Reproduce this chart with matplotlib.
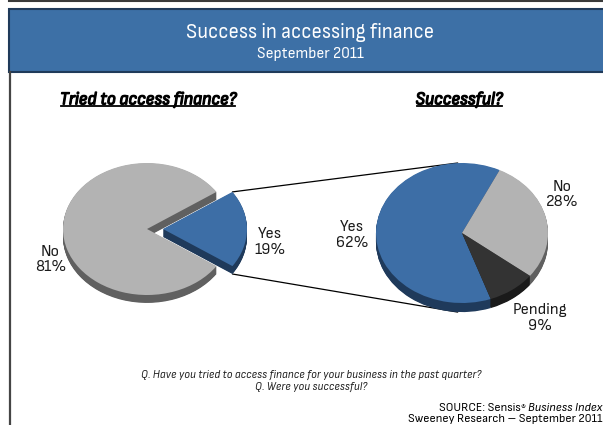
import matplotlib
matplotlib.use('Agg')
import matplotlib.pyplot as plt
import matplotlib.patheffects as pe
from matplotlib.patches import Rectangle, ConnectionPatch
from matplotlib.lines import Line2D
from matplotlib.transforms import IdentityTransform
import numpy as np

plt.rcParams['font.family'] = ['Sofia Sans Semi Condensed', 'Archivo Narrow', 'DejaVu Sans']

# Tried to access finance?
tried_labels = ['Yes', 'No']
tried_values = [19, 81]

# Successful?
success_labels = ['Yes', 'No', 'Pending']
success_values = [62, 28, 9]

W, H = 603, 425
BLUE, BLUE_SIDE = '#3d6ea6', '#1f3a5b'
GREY, GREY_SIDE = '#b3b3b3', '#606060'
DARK, DARK_SIDE = '#333333', '#1a1a1a'


def fx(x):
    return x / W


def fy(y):
    return 1 - y / H


def pie_axes(cx, cy, a, b, lim=1.4):
    # axes sized so that one data unit is a px across and b px high
    w, h = 2 * lim * a, 2 * lim * b
    ax = fig.add_axes([fx(cx - w / 2), fy(cy + h / 2), w / W, h / H])
    return ax


def pie3d(ax, values, faces, sides, depth, lim=1.4, **kw):
    steps = 14
    for k in range(steps, 0, -1):
        ax.pie(values, colors=sides, center=(0, -depth * k / steps),
               wedgeprops=dict(linewidth=0), **kw)
    wedges, _ = ax.pie(values, colors=faces, wedgeprops=dict(linewidth=0), **kw)
    ax.set_aspect('auto')
    ax.set_xlim(-lim, lim)
    ax.set_ylim(-lim, lim)
    return wedges


fig = plt.figure(figsize=(W / 100, H / 100), dpi=100)

# header band and frame
fig.add_artist(Rectangle((fx(9), fy(72)), fx(W - 9) + 0.01, 63 / H,
                         transform=fig.transFigure, facecolor='#3d70a6',
                         edgecolor='#1f3a5a', linewidth=1.5, zorder=-2))
fig.add_artist(Line2D([fx(9), 1], [fy(0.8), fy(0.8)], color='#3a3a3a', lw=1.5))
fig.add_artist(Line2D([fx(9.8), fx(9.8)], [0, fy(72)], color='#454545', lw=1.6))

fig.text(0.514, fy(32), 'Success in accessing finance', color='white',
         fontsize=15, ha='center', va='center')
fig.text(0.514, fy(54), 'September 2011', color='white',
         fontsize=11.5, ha='center', va='center')

# left pie
ax1 = pie_axes(147, 229, 84, 66)
w1 = pie3d(ax1, tried_values, [BLUE, GREY], [BLUE_SIDE, GREY_SIDE], 0.12,
           startangle=34.2, counterclock=False, explode=[0.19, 0])

# right pie
ax2 = pie_axes(462, 233, 86, 70)
w2 = pie3d(ax2, success_values, [BLUE, GREY, DARK],
           [BLUE_SIDE, GREY_SIDE, DARK_SIDE], 0.13,
           startangle=-70.5, counterclock=False)

lab = dict(fontsize=12, ha='center', va='center', color='#1a1a1a', linespacing=1.15)
ax1.text(-1.15, -0.46, f'{tried_labels[1]}\n{tried_values[1]}%', **lab)
ax1.text(1.46, -0.20, f'{tried_labels[0]}\n{tried_values[0]}%', **lab)
ax2.text(-1.28, -0.03, f'{success_labels[0]}\n{success_values[0]}%', **lab)
ax2.text(1.17, 0.55, f'{success_labels[1]}\n{success_values[1]}%', **lab)
ax2.text(0.91, -1.21, f'{success_labels[2]}\n{success_values[2]}%', **lab)

# lines linking the Yes slice to the breakdown pie
yes = w1[0]
cx, cy = yes.center
t_hi, t_lo = np.radians(yes.theta2), np.radians(yes.theta1)
p_hi = (cx + yes.r * np.cos(t_hi), cy + yes.r * np.sin(t_hi))
p_lo = (cx + yes.r * np.cos(t_lo), cy + yes.r * np.sin(t_lo) - 0.12)
for pa, pb in [(p_hi, (-0.05, 1.0)), (p_lo, (-0.05, -1.13))]:
    con = ConnectionPatch(pa, pb, coordsA=ax1.transData, coordsB=ax2.transData,
                          color='black', lw=0.9, zorder=-1)
    fig.add_artist(con)

# headings: heavier stroke stands in for the bold face
bold = [pe.withStroke(linewidth=0.9, foreground='black')]
h1 = fig.text(fx(148), fy(100), 'Tried to access finance?', fontsize=13,
              fontweight='bold', style='italic', ha='center', va='center',
              path_effects=bold)
h2 = fig.text(fx(459), fy(100), 'Successful?', fontsize=13,
              fontweight='bold', style='italic', ha='center', va='center',
              path_effects=bold)

fig.text(fx(311), fy(375), 'Q. Have you tried to access finance for your business in the past quarter?',
         fontsize=8.3, style='italic', ha='center', va='center', color='#222222')
fig.text(fx(311), fy(387), 'Q. Were you successful?',
         fontsize=8.3, style='italic', ha='center', va='center', color='#222222')

# source note, built right to left
bg = fig.add_axes([0, 0, 1, 1], zorder=-5)
bg.axis('off')
t_bi = bg.text(fx(602), fy(408), 'Business Index', fontsize=9, style='italic',
               ha='right', va='center', transform=fig.transFigure)
t_r = bg.annotate('®', xy=(0, 1), xycoords=t_bi, xytext=(-1.5, -1),
                  textcoords='offset points', fontsize=6.5, ha='right', va='top')
bg.annotate('SOURCE: Sensis', xy=(0, 0.5), xycoords=(t_r, t_bi), xytext=(0, 0),
            textcoords='offset points', fontsize=9, ha='right', va='center')
bg.text(fx(602), fy(419), 'Sweeney Research – September 2011', fontsize=9,
        ha='right', va='center', transform=fig.transFigure)

fig.canvas.draw()
for t in (h1, h2):
    bb = t.get_window_extent()
    fig.add_artist(Line2D([bb.x0 + 1, bb.x1 - 1], [bb.y0 + 1.5, bb.y0 + 1.5],
                          transform=IdentityTransform(), color='black', lw=1.3))

fig.savefig('out.png', dpi=100)
